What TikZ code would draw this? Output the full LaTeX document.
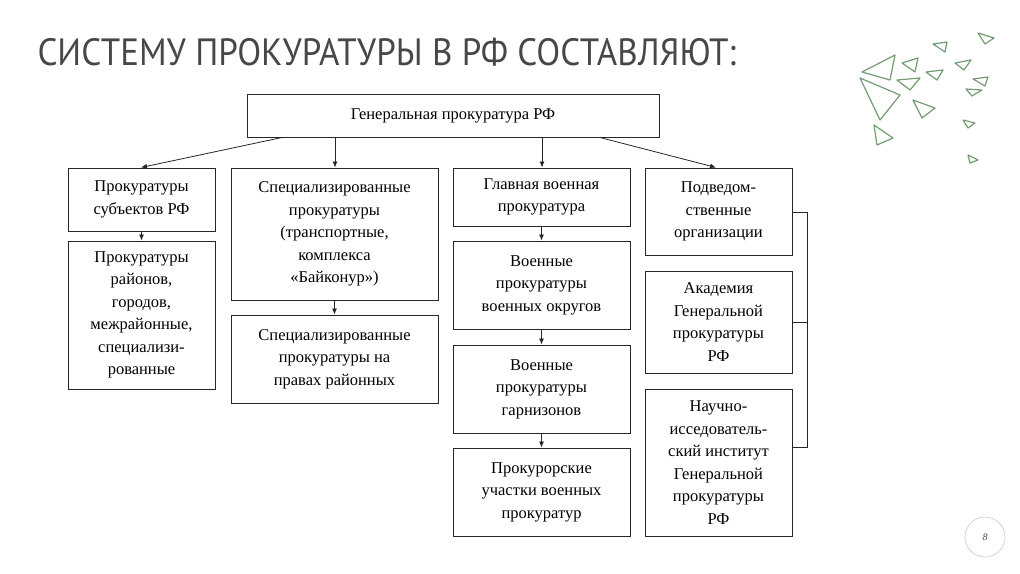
\documentclass[tikz,border=0pt]{standalone}
\usepackage{fontspec}
\setmainfont{Liberation Serif}
\newfontfamily\titlefont{PT Sans}
\usetikzlibrary{arrows.meta}
\begin{document}
\begin{tikzpicture}[x=1pt,y=-1pt,
  bx/.style={draw=black!85,line width=1pt,align=center,font=\fontsize{16.5}{22.5}\selectfont,inner sep=1pt},
  arr/.style={-{Latex[length=6pt,width=5pt]},line width=0.8pt,black!85},
  ln/.style={line width=0.8pt,black!85},
  tri/.style={draw=green!30!black!55,line width=1.2pt,line join=round}]
\useasboundingbox (0,0) rectangle (1020,573);
\fill[white] (0,0) rectangle (1020,573);
\node[anchor=west,font=\titlefont\fontsize{38}{40}\selectfont,text=black!72] (title) at (34,52) {\scalebox{0.92}[1]{СИСТЕМУ ПРОКУРАТУРЫ В РФ СОСТАВЛЯЮТ:}};
% boxes
\newcommand{\bxat}[6]{\node[bx,minimum width=#4-#2,minimum height=#5-#3] (#1) at ({(#2+#4)/2},{(#3+#5)/2}) {#6};}
\bxat{gen}{247}{94}{659}{137}{Генеральная прокуратура РФ}
\bxat{a}{68}{168}{215}{231}{Прокуратуры\\субъектов РФ}
\bxat{b}{68}{241}{215}{389}{Прокуратуры\\районов,\\городов,\\межрайонные,\\специализи-\\рованные}
\bxat{c}{231}{168}{438}{300}{Специализированные\\прокуратуры\\(транспортные,\\комплекса\\«Байконур»)}
\bxat{d}{231}{315}{438}{403}{Специализированные\\прокуратуры на\\правах районных}
\bxat{e}{453}{168}{630}{226}{Главная военная\\прокуратура}
\bxat{f}{453}{241}{630}{329}{Военные\\прокуратуры\\военных округов}
\bxat{g}{453}{345}{630}{433}{Военные\\прокуратуры\\гарнизонов}
\bxat{h}{453}{448}{630}{536}{Прокурорские\\участки военных\\прокуратур}
\bxat{i}{645}{168}{792}{255}{Подведом-\\ственные\\организации}
\bxat{j}{645}{271}{792}{373}{Академия\\Генеральной\\прокуратуры\\РФ}
\bxat{k}{645}{389}{792}{536}{Научно-\\исседователь-\\ский институт\\Генеральной\\прокуратуры\\РФ}
% arrows from top
\draw[arr] (gen.south -| 282,0) -- (a.north -| 141,0);
\draw[arr] (gen.south -| 335,0) -- (c.north -| 335,0);
\draw[arr] (gen.south -| 542,0) -- (e.north -| 542,0);
\draw[arr] (gen.south -| 600,0) -- (i.north -| 716,0);
\draw[arr] (a) -- (b);
\draw[arr] (c) -- (d);
\draw[arr] (e) -- (f);
\draw[arr] (f) -- (g);
\draw[arr] (g) -- (h);
\coordinate (br1) at (807,212);
\coordinate (br3) at (807,447);
\draw[ln] (i.east |- br1) -- (br1) -- (br3) -- (k.east |- br3);
\draw[ln] (j.east) -- (j.east -| br1);
% decoration
\draw[tri] (862,72) -- (895,55) -- (890,80) -- cycle;
\draw[tri] (860,78) -- (900,95) -- (880,120) -- cycle;
\draw[tri] (902,63) -- (918,58) -- (915,72) -- cycle;
\draw[tri] (897,80) -- (920,78) -- (910,90) -- cycle;
\draw[tri] (926,72) -- (943,70) -- (937,80) -- cycle;
\draw[tri] (933,44) -- (947,42) -- (945,52) -- cycle;
\draw[tri] (955,63) -- (971,60) -- (964,70) -- cycle;
\draw[tri] (973,79) -- (988,77) -- (985,86) -- cycle;
\draw[tri] (978,33) -- (994,38) -- (985,44) -- cycle;
\draw[tri] (966,89) -- (982,90) -- (972,96) -- cycle;
\draw[tri] (913,100) -- (935,108) -- (922,118) -- cycle;
\draw[tri] (963,120) -- (975,123) -- (968,128) -- cycle;
\draw[tri] (874,125) -- (893,138) -- (877,145) -- cycle;
\draw[tri] (968,155) -- (978,160) -- (970,163) -- cycle;
% page number
\draw[green!30!black!25,line width=0.6pt] (985,537) circle (20);
\node[font=\itshape\fontsize{10}{12}\selectfont,text=black!70] (pn) at (985,537) {8};
\end{tikzpicture}
\end{document}
